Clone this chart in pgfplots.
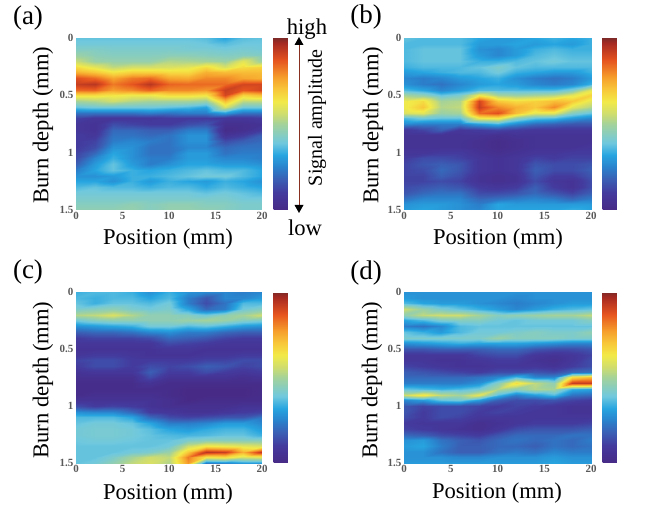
\documentclass[border=0pt]{standalone}
\usepackage{fontspec}
\setmainfont{Liberation Serif}
\usepackage{pgfplots}
\usepackage{pgfplotstable}
\pgfplotsset{compat=1.18}

\pgfplotstableread[header=false]{
0.00 38 38 38 38 38 38 38 37 32 37 38
0.05 40 40 40 40 40 40 40 39 37 39 39
0.10 43 43 42 42 42 42 41 41 40 41 40
0.15 48 45 44 44 44 45 45 44 43 44 43
0.20 55 48 47 47 47 52 51 50 48 60 48
0.25 66 60 54 57 57 58 60 66 58 66 68
0.30 74 70 64 68 68 66 66 74 72 72 72
0.35 88 84 76 82 84 76 75 80 80 76 74
0.40 92 94 82 87 94 85 84 84 84 90 90
0.45 84 85 77 80 85 80 80 78 92 87 90
0.50 66 66 64 62 62 66 66 64 90 68 72
0.55 50 52 56 52 50 50 50 48 72 54 54
0.60 38 40 40 40 40 38 36 32 58 40 40
0.65 22 22 22 22 24 22 24 24 30 22 22
0.70 12 8 8 8 8 10 10 10 8 8 10
0.75 8 6 14 12 10 10 14 16 4 4 6
0.80 8 6 20 20 18 18 24 24 2 4 10
0.85 10 8 22 22 20 22 28 28 6 10 18
0.90 10 12 24 26 24 22 28 28 14 18 20
0.95 10 14 28 28 22 22 26 26 20 22 22
1.00 12 20 32 28 22 22 30 30 22 24 24
1.05 14 26 34 28 24 24 30 30 26 26 24
1.10 18 30 38 30 24 28 32 32 30 30 28
1.15 24 32 38 34 32 34 36 38 36 36 32
1.20 28 28 30 34 34 36 38 40 40 36 32
1.25 32 32 28 34 30 34 32 30 34 32 28
1.30 36 38 36 36 34 36 36 33 36 34 32
1.35 40 40 40 40 40 40 40 38 40 38 36
1.40 42 42 42 42 42 42 42 42 42 40 40
1.45 44 44 44 46 44 46 46 44 44 42 42
1.50 46 46 46 47 44 47 47 46 44 42 42
}\tabA
\pgfplotstableread[header=false]{
0.00 38 36 36 36 32 30 30 32 34 32 34
0.05 36 36 36 36 30 30 32 30 32 30 34
0.10 36 38 38 38 28 26 30 34 36 34 34
0.15 36 38 38 38 30 26 30 36 38 36 36
0.20 36 38 38 38 34 34 36 38 40 38 38
0.25 34 36 36 36 38 42 38 36 36 36 36
0.30 30 32 34 36 36 40 34 32 30 30 34
0.35 26 24 26 30 32 34 28 24 22 24 30
0.40 28 24 22 26 30 32 30 26 24 26 34
0.45 36 32 26 30 36 36 36 36 36 42 60
0.50 50 46 38 42 62 50 48 50 52 60 68
0.55 62 66 50 52 90 70 66 68 72 70 60
0.60 62 70 52 54 92 80 74 70 80 60 52
0.65 58 60 48 50 84 88 72 60 60 44 38
0.70 36 40 38 38 62 64 46 38 36 30 26
0.75 26 24 24 24 30 34 26 20 18 16 16
0.80 8 12 18 8 10 12 10 8 8 8 8
0.85 6 6 6 6 6 4 6 6 6 6 6
0.90 6 6 6 6 4 2 4 6 6 6 6
0.95 6 6 6 6 4 2 4 6 6 6 8
1.00 8 8 10 10 6 4 6 8 8 10 10
1.05 10 14 14 12 8 6 8 12 10 12 12
1.10 12 16 18 16 8 6 8 16 14 14 16
1.15 12 14 20 16 8 6 8 18 14 14 18
1.20 12 12 18 14 6 4 6 16 10 10 16
1.25 12 12 14 12 6 4 6 14 8 6 14
1.30 14 16 18 16 10 8 10 18 10 6 14
1.35 16 20 22 22 14 14 16 20 16 12 18
1.40 22 26 26 26 20 22 24 26 24 20 24
1.45 28 30 30 28 24 32 30 30 30 30 30
1.50 30 32 30 28 26 32 32 32 32 34 32
}\tabB
\pgfplotstableread[header=false]{
0.00 34 36 36 34 28 34 28 26 26 24 26
0.05 36 34 36 36 32 36 24 16 26 26 30
0.10 38 34 38 38 36 40 24 14 22 36 36
0.15 42 44 46 42 40 42 32 20 24 40 44
0.20 52 54 58 52 46 46 44 40 46 50 56
0.25 40 44 46 46 46 46 48 50 48 44 42
0.30 28 30 32 34 40 40 36 38 34 30 28
0.35 18 20 20 22 26 28 24 24 20 18 18
0.40 10 12 12 12 14 20 18 16 12 10 10
0.45 8 8 8 8 8 14 12 10 8 8 8
0.50 6 6 6 6 6 8 8 6 6 6 6
0.55 8 10 10 8 6 6 6 8 8 10 10
0.60 12 14 14 10 10 10 10 12 12 14 14
0.65 10 14 14 10 14 12 14 18 16 12 14
0.70 6 8 8 8 18 10 10 14 10 8 10
0.75 4 4 4 4 14 6 6 6 6 4 6
0.80 2 2 2 2 6 2 2 2 2 2 2
0.85 2 2 2 2 2 2 0 0 0 0 2
0.90 2 4 4 4 4 2 0 0 0 0 2
0.95 6 6 6 6 6 4 0 2 2 2 2
1.00 14 10 12 10 6 4 4 4 4 6 6
1.05 28 26 26 20 10 8 6 6 8 10 12
1.10 36 36 36 32 20 14 12 14 16 16 22
1.15 38 40 40 38 32 24 24 26 30 30 26
1.20 40 41 41 40 37 32 30 33 35 35 30
1.25 40 41 41 40 38 36 35 36 38 38 34
1.30 39 40 40 39 38 38 42 44 44 44 44
1.35 38 38 38 38 38 40 56 64 62 60 58
1.40 38 38 38 40 42 48 70 94 92 74 94
1.45 38 38 42 50 56 54 82 64 66 58 60
1.50 38 40 46 54 58 52 78 24 26 30 30
}\tabC
\pgfplotstableread[header=false]{
0.00 28 28 28 28 28 28 28 28 28 28 28
0.05 30 28 28 28 28 28 26 28 28 28 28
0.10 36 32 30 30 28 26 24 26 28 30 30
0.15 56 48 42 38 34 30 26 30 34 36 38
0.20 46 54 56 56 50 44 46 48 50 50 54
0.25 32 36 42 44 44 40 38 40 40 40 44
0.30 24 22 26 36 38 38 38 38 38 38 38
0.35 38 34 30 36 40 40 42 44 42 42 46
0.40 42 42 42 42 42 48 44 44 44 42 42
0.45 28 30 32 34 32 32 32 30 28 26 26
0.50 16 16 18 18 18 20 20 16 14 14 16
0.55 8 8 8 8 12 14 14 8 6 8 12
0.60 8 8 6 6 8 10 10 6 4 8 14
0.65 12 10 8 6 6 8 8 8 6 10 14
0.70 18 16 14 12 10 14 14 16 14 20 22
0.75 20 20 20 20 22 26 36 26 26 66 72
0.80 24 24 24 24 28 44 66 54 46 92 92
0.85 38 36 34 36 40 52 46 52 50 34 32
0.90 56 64 54 50 60 36 24 30 36 22 20
0.95 26 30 38 40 30 18 14 14 16 12 10
1.00 16 12 14 14 12 10 12 10 8 6 6
1.05 16 10 14 14 10 12 10 8 8 6 6
1.10 14 10 14 12 8 8 8 8 8 8 8
1.15 10 8 8 8 4 6 8 10 10 10 12
1.20 12 10 8 6 4 8 14 16 16 16 18
1.25 20 18 14 12 10 16 20 20 20 22 22
1.30 28 30 22 18 16 20 22 20 22 20 24
1.35 30 32 24 18 18 20 20 18 22 20 22
1.40 28 28 22 18 18 22 24 22 26 24 24
1.45 28 28 28 26 26 28 28 28 30 28 28
1.50 30 30 30 30 30 30 30 30 32 30 30
}\tabD

% turn a wide table (depth, then one column per position) into a coordinate list
\newcommand\flatten[2]{%
  \gdef\flatout{}%
  \pgfplotsforeachungrouped \i in {0,...,30}{%
    \pgfplotstablegetelem{\i}{[index]0}\of{#1}\let\yy\pgfplotsretval
    \pgfplotsforeachungrouped \j in {1,...,11}{%
      \pgfmathtruncatemacro\xx{(\j-1)*2}%
      \pgfplotstablegetelem{\i}{[index]\j}\of{#1}\let\vv\pgfplotsretval
      \xdef\flatout{\flatout (\xx,\yy)[\vv]}%
    }%
  }%
  \global\let#2\flatout
}

\definecolor{arrowred}{RGB}{138,48,32}
\pgfplotsset{
  colormap={burn}{
    rgb255(0pt)=(71,42,134)
    rgb255(10pt)=(68,58,158)
    rgb255(18pt)=(58,95,180)
    rgb255(25pt)=(42,130,205)
    rgb255(32pt)=(39,165,224)
    rgb255(39pt)=(111,200,222)
    rgb255(50pt)=(164,210,154)
    rgb255(56pt)=(207,221,110)
    rgb255(63pt)=(242,234,72)
    rgb255(70pt)=(248,200,58)
    rgb255(77pt)=(246,160,44)
    rgb255(87pt)=(230,84,31)
    rgb255(97pt)=(166,42,34)
    rgb255(100pt)=(126,42,40)
  },
  hm/.style={surf, shader=interp, mesh/rows=31, mesh/cols=11, point meta=explicit},
  burnaxis/.style={
    anchor=south west, scale only axis, colormap name=burn,
    xmin=0, xmax=20, ymin=0, ymax=1.5, y dir=reverse,
    xtick={0,5,10,15,20}, ytick={0,0.5,1,1.5},
    yticklabels={0,0.5,1,1.5},
    tick style={draw=none}, axis line style={draw=none},
    /pgf/number format/assume math mode=true,
    tick label style={font=\fontsize{11}{11}\selectfont\bfseries, text=black!65},
    xticklabel style={yshift=1pt},
    yticklabel style={xshift=1pt},
    point meta min=0, point meta max=100,
    colorbar,
    colorbar style={at={(parent axis.north east)}, anchor=north west, xshift=3pt,
      width=16pt, ytick=\empty, xtick=\empty, axis line style={draw=none}},
  },
}
\newcommand\lab{\fontsize{22.6}{24}\selectfont}
\newcommand\pan{\fontsize{27}{29}\selectfont}

\begin{document}
\begin{tikzpicture}[x=1pt,y=1pt]
\path[use as bounding box] (0,0) rectangle (648,506);
\flatten{\tabA}{\coA}
\flatten{\tabB}{\coB}
\flatten{\tabC}{\coC}
\flatten{\tabD}{\coD}

\begin{axis}[burnaxis, at={(76pt,296pt)}, width=186pt, height=172pt]
\edef\temp{\noexpand\addplot[hm] coordinates {\coA};}\temp
\end{axis}
\begin{axis}[burnaxis, at={(404pt,296pt)}, width=187pt, height=172pt]
\edef\temp{\noexpand\addplot[hm] coordinates {\coB};}\temp
\end{axis}
\begin{axis}[burnaxis, at={(76pt,43pt)}, width=186pt, height=171pt]
\edef\temp{\noexpand\addplot[hm] coordinates {\coC};}\temp
\end{axis}
\begin{axis}[burnaxis, at={(404pt,43pt)}, width=187pt, height=171pt]
\edef\temp{\noexpand\addplot[hm] coordinates {\coD};}\temp
\end{axis}

% panel letters
\node[font=\pan] at (28,488) {(a)};
\node[font=\pan] at (366,489) {(b)};
\node[font=\pan] at (28,234) {(c)};
\node[font=\pan] at (366,233) {(d)};
% axis titles
\foreach \xa/\ya in {43/381, 373/381, 43/126, 372/126}
  \node[font=\lab, rotate=90] at (\xa,\ya) {Burn depth (mm)};
\foreach \xa/\ya in {168/267, 498/267, 168/12, 497/13}
  \node[font=\lab] at (\xa,\ya) {Position (mm)};
% amplitude scale of panel (a)
\node[font=\lab] at (307,477) {high};
\node[font=\lab] at (305,278) {low};
\node[font=\fontsize{20}{22}\selectfont, rotate=90] at (317,388) {Signal amplitude};
\draw[color=arrowred, line width=1pt] (299,462) -- (299,300);
\fill (299,469) -- (294.5,461) -- (303.5,461) -- cycle;
\fill (299,293) -- (294.5,301) -- (303.5,301) -- cycle;
\end{tikzpicture}
\end{document}
